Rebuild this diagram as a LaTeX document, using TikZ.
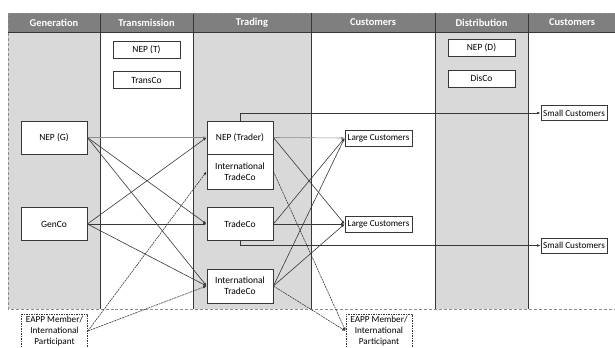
\documentclass[tikz,border=0pt]{standalone}
\usepackage{fontspec}
\setmainfont{Carlito}
\usetikzlibrary{arrows.meta,positioning}
\definecolor{headgray}{RGB}{127,127,127}
\definecolor{colgray}{RGB}{217,217,217}
\definecolor{edgegray}{RGB}{55,55,55}
\definecolor{fadegray}{RGB}{140,140,140}

\begin{document}
\begin{tikzpicture}[x=1bp, y=-1bp,
  hdr/.style={text=white, font=\fontsize{10.5}{12}\selectfont\bfseries},
  box/.style={draw=edgegray, fill=white, line width=0.8bp, inner sep=1bp, align=center, font=\fontsize{9.5}{11}\selectfont},
  bigbox/.style={box, minimum width=66bp, minimum height=33bp},
  smallbox/.style={box, minimum width=67bp, minimum height=17bp},
  custbox/.style={box, minimum width=67bp, minimum height=16bp, font=\fontsize{9.2}{11}\selectfont},
  eappbox/.style={box, dash pattern=on 1.5bp off 1bp, minimum width=66bp, minimum height=34bp, font=\fontsize{9.2}{10.8}\selectfont},
  link/.style={-{Latex[length=3.5bp,width=2.6bp]}, draw=edgegray, line width=0.6bp},
  faint/.style={draw=fadegray},
  finedash/.style={dash pattern=on 2bp off 0.8bp},
  sepline/.style={draw=edgegray, line width=0.9bp}]
  \useasboundingbox (0,0) rectangle (615,347);

  % columns and header
  \fill[colgray] (8,32) rectangle (100,309);
  \fill[colgray] (193,32) rectangle (311,309);
  \fill[colgray] (435,32) rectangle (528,309);
  \fill[headgray] (8,13) rectangle (615,32);
  \foreach \x in {100,193,311,435,528}
    \draw[sepline] (\x,13) -- (\x,309);
  \draw[sepline] (8,32) -- (615,32);
  \draw[fadegray, densely dashed] (8,13) -- (615,13);
  \draw[fadegray, densely dashed] (8,13) -- (8,309) -- (615,309);

  \node[hdr] (hgen) at (54,22.5) {Generation};
  \node[hdr] (htrans) at (146.5,22.5) {Transmission};
  \node[hdr] (htrade) at (252,22.5) {Trading};
  \node[hdr] (hcust1) at (373,22.5) {Customers};
  \node[hdr] (hdist) at (481.5,22.5) {Distribution};
  \node[hdr] (hcust2) at (572,22.5) {Customers};

  % boxes
  \node[smallbox] (nept) at (146.5,49.5) {NEP (T)};
  \node[smallbox] (transco) at (146.5,80) {TransCo};
  \node[smallbox] (nepd) at (481.5,48) {NEP (D)};
  \node[smallbox] (disco) at (481.5,78.5) {DisCo};
  \node[bigbox] (nepg) at (54,137.5) {NEP (G)};
  \node[bigbox] (genco) at (54,224) {GenCo};
  \node[bigbox] (neptr) at (240,137.5) {NEP (Trader)};
  \node[bigbox, minimum height=35bp] (intlup) at (240,171.5) {International\\TradeCo};
  \node[bigbox] (tradeco) at (240,224) {TradeCo};
  \node[bigbox, minimum height=34bp] (intllow) at (240,286) {International\\TradeCo};
  \node[custbox] (large1) at (378.5,138) {Large Customers};
  \node[custbox] (large2) at (378.5,224) {Large Customers};
  \node[custbox, minimum width=66bp, minimum height=15bp] (small1) at (574,113) {Small Customers};
  \node[custbox, minimum width=66bp, minimum height=15bp] (small2) at (574,245.5) {Small Customers};
  \node[eappbox] (eappl) at (54.5,331) {EAPP Member/\\International\\Participant};
  \node[eappbox] (eappr) at (379,331) {EAPP Member/\\International\\Participant};

  % generation to trading
  \draw[link, faint] (nepg.east) -- (neptr.west);
  \draw[link] (nepg.east) -- (tradeco.west);
  \draw[link] (nepg.east) -- (intllow.west);
  \draw[link] (genco.east) -- (neptr.west);
  \draw[link] (genco.east) -- (tradeco.west);
  \draw[link] (genco.east) -- (intllow.west);
  \draw[link, finedash] (eappl.east) -- (intlup.west);
  \draw[link, finedash] (eappl.east) -- (intllow.west);

  % trading to customers
  \draw[link, faint] (neptr.east) -- (large1.west);
  \draw[link] (neptr.east) -- (large2.west);
  \draw[link] (neptr.north) |- (small1.west);
  \draw[link, finedash] (intlup.east) -- (eappr.west);
  \draw[link] (tradeco.east) -- (large1.west);
  \draw[link] (tradeco.east) -- (large2.west);
  \draw[link] (tradeco.south) |- (small2.west);
  \draw[link] (intllow.east) -- (large1.west);
  \draw[link] (intllow.east) -- (large2.west);
  \draw[link, finedash] (intllow.east) -- (eappr.west);
\end{tikzpicture}
\end{document}
